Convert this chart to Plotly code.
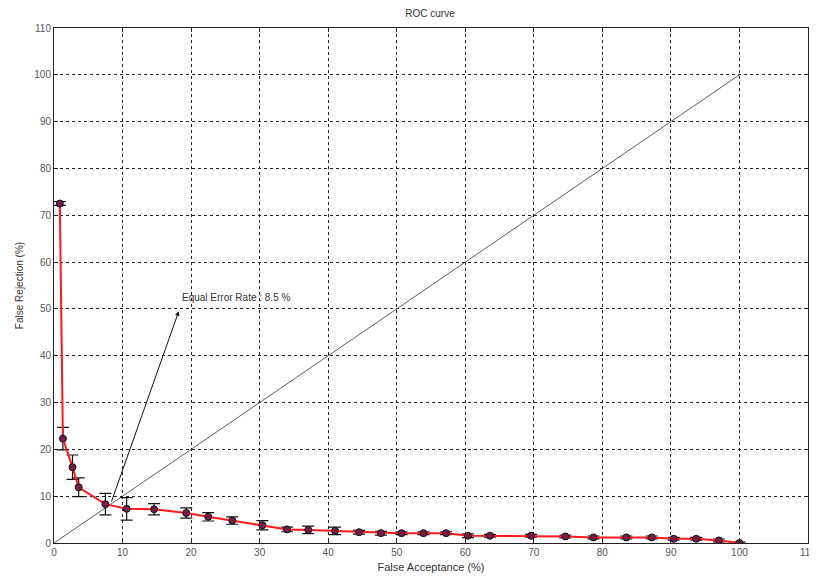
import plotly.graph_objects as go

fa = [0.85, 1.3, 2.7, 3.6, 7.5, 10.6, 14.6, 19.3, 22.5, 26.0, 30.4, 34.0, 37.1, 41.0, 44.5,
      47.7, 50.7, 53.9, 57.2, 60.4, 63.6, 69.6, 74.6, 78.7, 83.5, 87.2, 90.4, 93.7, 97.0, 100.0]
fr = [72.5, 22.3, 16.2, 11.9, 8.3, 7.3, 7.2, 6.4, 5.6, 4.8, 3.8, 2.9, 2.8, 2.6, 2.3,
      2.1, 2.1, 2.1, 2.1, 1.55, 1.55, 1.55, 1.4, 1.2, 1.2, 1.2, 0.9, 0.9, 0.55, 0.0]
err = [0.4, 2.4, 2.6, 2.0, 2.3, 2.4, 1.2, 1.1, 0.9, 0.8, 1.0, 0.5, 0.8, 0.8, 0.4,
       0.4, 0.3, 0.3, 0.3, 0.4, 0.3, 0.3, 0.3, 0.3, 0.3, 0.3, 0.3, 0.3, 0.3, 0.2]
diag_x = [0, 100]
diag_y = [0, 100]
ticks = list(range(0, 111, 10))
eer_text = "Equal Error Rate : 8.5 %"

FONT = "Liberation Sans, Arial"
W, H = 809, 571

fig = go.Figure()
fig.add_trace(go.Scatter(x=diag_x, y=diag_y, mode="lines",
                         line=dict(color="#333333", width=0.8), hoverinfo="skip"))
fig.add_trace(go.Scatter(x=fa, y=fr, mode="lines+markers",
                         line=dict(color="#ff1a1a", width=2),
                         marker=dict(size=7, color="#7a1a4a", line=dict(color="#111111", width=1)),
                         error_y=dict(type="data", array=err, visible=True, color="#111111",
                                      thickness=1.2, width=6)))

fig.add_annotation(x=18.2, y=49.5, ax=8.3, ay=8.5, axref="x", ayref="y", xref="x", yref="y",
                   text="", showarrow=True, arrowhead=2, arrowsize=0.9, arrowwidth=1,
                   arrowcolor="#111111")
fig.add_annotation(x=18.4, y=52.5, xref="x", yref="y", text=eer_text, showarrow=False,
                   xanchor="left", yanchor="middle",
                   font=dict(size=10, color="#333333", family=FONT))

axis_common = dict(range=[0, 110], tickvals=ticks, showgrid=True, gridcolor="#222222",
                   griddash="dot", gridwidth=1, showline=True, linecolor="#222222",
                   linewidth=1, mirror="ticks", ticks="inside", ticklen=4,
                   tickcolor="#222222", zeroline=False, automargin=False,
                   tickfont=dict(size=10, color="#555555", family=FONT))

fig.update_layout(
    width=W, height=H,
    margin=dict(l=46, r=9, t=20, b=36, autoexpand=False),
    paper_bgcolor="white", plot_bgcolor="white",
    showlegend=False,
    title=dict(text="ROC curve", x=422 / W, xanchor="center", y=1 - 5 / H, yanchor="middle",
               automargin=False,
               font=dict(size=10, color="#333333", family=FONT)),
    xaxis=dict(**axis_common, title=dict(text="False Acceptance (%)", standoff=6,
                                         font=dict(size=11, color="#333333", family=FONT))),
    yaxis=dict(**axis_common, title=dict(text="False Rejection (%)", standoff=8,
                                         font=dict(size=10, color="#333333", family=FONT))),
)

fig.write_html("out.html")
